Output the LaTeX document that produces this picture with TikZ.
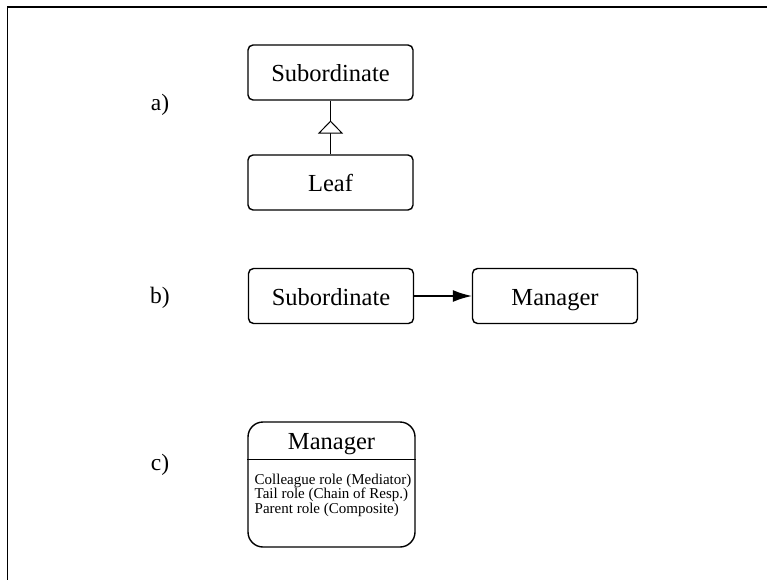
\documentclass[tikz,border=0pt]{standalone}
\usepackage{fontspec}
\setmainfont{Liberation Serif}
\usetikzlibrary{arrows.meta,decorations.markings}

\begin{document}
\begin{tikzpicture}[x=1pt,y=-1pt,line width=1.4pt]
            \useasboundingbox (0,0) rectangle (767,580);
            % frame
            \draw[line width=2.6pt] (7,7) -- (767,7);
            \draw[line width=0.9pt] (7,7) -- (7,580);
            \begin{scope}[every node/.style={font=\fontsize{23.5}{27}\selectfont}]
                \node (la) at (160,105) {a)};
                \node (lb) at (160,298) {b)};
                \node (lc) at (160,465) {c)};
            \end{scope}
            \begin{scope}[every node/.style={draw,rounded corners=5pt,minimum width=165pt,minimum height=55pt,text height=18pt,text depth=0pt,font=\fontsize{24.5}{28}\selectfont}]
                \node (suba) at (330.5,72.5) {Subordinate};
                \node (leaf) at (330.5,182.5) {Leaf};
                \node (subb) at (331,296) {Subordinate};
                \node (mgrb) at (555,296) {Manager};
                \node[rounded corners=15pt,minimum width=167pt,minimum height=125pt] (mgrc) at (331.5,484.5) {};
            \end{scope}
            \node[anchor=north,minimum height=37pt,inner sep=0pt,text height=18pt,text depth=0pt,font=\fontsize{24.5}{28}\selectfont] (mgrtitle) at (mgrc.north) {Manager};
            \node[anchor=north west,align=left,inner sep=0pt,font=\fontsize{15}{14.6}\selectfont] (mgrroles) at (254,473) {Colleague role (Mediator)\\Tail role (Chain of Resp.)\\Parent role (Composite)};
            \draw[line width=1.1pt] (mgrc.west |- mgrtitle.south) -- (mgrc.east |- mgrtitle.south);
            \draw[line width=1.1pt,postaction={decorate},decoration={markings,mark=at position 0.63 with {\arrow{Triangle[length=13pt,width=25pt,fill=white,line width=1pt]}}}] (leaf) -- (suba);
            \draw[-{Latex[length=19pt,width=12pt]}] (subb) -- (mgrb);
        \end{tikzpicture}
\end{document}
